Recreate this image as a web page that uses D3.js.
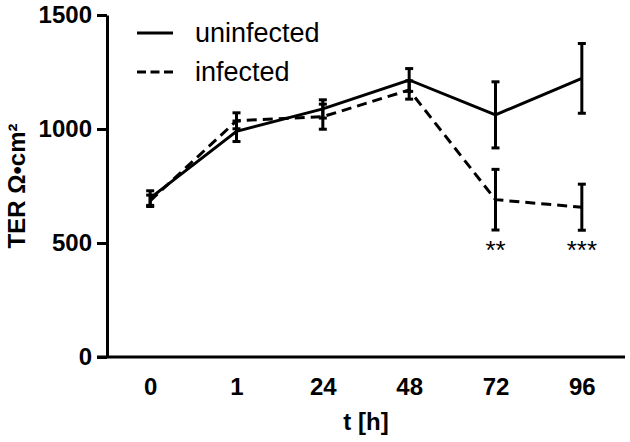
<!DOCTYPE html>
<html>
<head>
<meta charset="utf-8">
<script src="https://cdn.jsdelivr.net/npm/d3@7"></script>
<style>
  html, body { margin: 0; padding: 0; background: #fff; }
  svg { display: block; font-family: "Liberation Sans", Arial, Helvetica, sans-serif; }
</style>
</head>
<body>
<svg id="chart" width="630" height="442"></svg>
<script>
// ---- data ----
const categories = ["0", "1", "24", "48", "72", "96"];
const uninfectedMean = [697, 990, 1088, 1215, 1062, 1222];
const uninfectedErr  = [32, 45, 40, 50, 145, 153];
const infectedMean   = [685, 1036, 1054, 1171, 690, 657];
const infectedErr    = [25, 35, 55, 40, 133, 101];
const yTicks = [0, 500, 1000, 1500];
const seriesNames = ["uninfected", "infected"];
const significance = [{ cat: "72", label: "**" }, { cat: "96", label: "***" }];

// ---- layout ----
const svg = d3.select("#chart");
const plotLeft = 107, plotRight = 625, plotTop = 15, plotBottom = 357;

const x = d3.scalePoint().domain(categories).range([plotLeft, plotRight]).padding(0.5);
const y = d3.scaleLinear().domain([0, 1500]).range([plotBottom, plotTop]);

const series = [
  { name: seriesNames[0], mean: uninfectedMean, err: uninfectedErr, dash: null },
  { name: seriesNames[1], mean: infectedMean, err: infectedErr, dash: "10,6" }
];

// axes
const yAxis = d3.axisLeft(y).tickValues(yTicks).tickFormat(d3.format("d"))
  .tickSize(10).tickSizeOuter(0).tickPadding(5);
const gy = svg.append("g").attr("transform", `translate(${plotLeft},0)`).call(yAxis);
gy.select(".domain").attr("stroke", "#000").attr("stroke-width", 3);
gy.selectAll(".tick line").attr("stroke", "#000").attr("stroke-width", 3);
gy.selectAll(".tick text").attr("font-size", 24).attr("font-weight", "bold").attr("fill", "#000")
  .attr("font-family", "Liberation Sans, Arial, sans-serif");

const xAxis = d3.axisBottom(x).tickSize(0).tickSizeOuter(0).tickPadding(21);
const gx = svg.append("g").attr("transform", `translate(0,${plotBottom})`).call(xAxis);
gx.select(".domain").attr("stroke", "#000").attr("stroke-width", 3).attr("d", `M${plotLeft - 10},0H${plotRight}`);
gx.selectAll(".tick text").attr("font-size", 24).attr("font-weight", "bold").attr("fill", "#000")
  .attr("font-family", "Liberation Sans, Arial, sans-serif");

// axis titles
svg.append("text")
  .attr("transform", `translate(25,${(plotTop + plotBottom) / 2}) rotate(-90)`)
  .attr("text-anchor", "middle")
  .attr("font-size", 24).attr("font-weight", "bold")
  .text("TER Ω•cm²");

svg.append("text")
  .attr("x", (plotLeft + plotRight) / 2).attr("y", 430)
  .attr("text-anchor", "middle")
  .attr("font-size", 24).attr("font-weight", "bold")
  .text("t [h]");

// lines and error bars
const line = d3.line().x((d, i) => x(categories[i])).y(d => y(d));
series.forEach(s => {
  svg.append("path")
    .datum(s.mean)
    .attr("d", line)
    .attr("fill", "none")
    .attr("stroke", "#000")
    .attr("stroke-width", 3)
    .attr("stroke-dasharray", s.dash);

  const g = svg.append("g");
  s.mean.forEach((m, i) => {
    const cx = x(categories[i]);
    const y1 = y(m + s.err[i]), y2 = y(m - s.err[i]);
    g.append("line").attr("x1", cx).attr("x2", cx).attr("y1", y1).attr("y2", y2)
      .attr("stroke", "#000").attr("stroke-width", 3);
    [y1, y2].forEach(yy => {
      g.append("line").attr("x1", cx - 4).attr("x2", cx + 4).attr("y1", yy).attr("y2", yy)
        .attr("stroke", "#000").attr("stroke-width", 3);
    });
  });
});

// significance stars
significance.forEach(a => {
  const i = categories.indexOf(a.cat);
  const lower = infectedMean[i] - infectedErr[i];
  svg.append("text")
    .attr("x", x(a.cat)).attr("y", y(lower) + 29)
    .attr("text-anchor", "middle")
    .attr("font-size", 26)
    .text(a.label);
});

// legend
series.forEach((s, k) => {
  const ly = 33 + k * 39;
  svg.append("line").attr("x1", 137).attr("x2", 173).attr("y1", ly).attr("y2", ly)
    .attr("stroke", "#000").attr("stroke-width", 3).attr("stroke-dasharray", s.dash ? "9,4.5" : null);
  svg.append("text").attr("x", 195).attr("y", ly + 9)
    .attr("font-size", 27).text(s.name);
});
</script>
</body>
</html>
